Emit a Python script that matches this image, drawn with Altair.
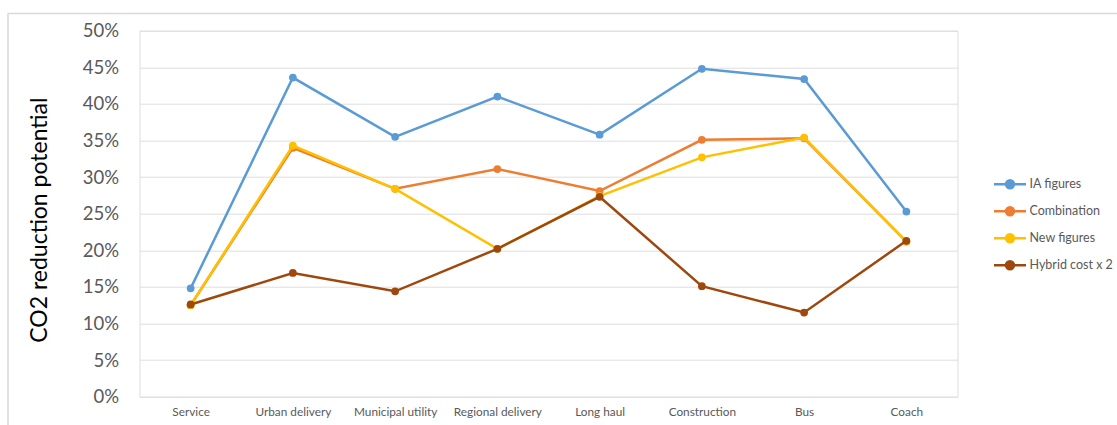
import altair as alt
import pandas as pd

categories = ["Service", "Urban delivery", "Municipal utility", "Regional delivery",
              "Long haul", "Construction", "Bus", "Coach"]
series_names = ["IA figures", "Combination", "New figures", "Hybrid cost x 2"]
ia_figures = [14.8, 43.6, 35.5, 41.0, 35.8, 44.8, 43.4, 25.3]
combination = [12.5, 34.0, 28.4, 31.1, 28.1, 35.1, 35.3, 21.2]
new_figures = [12.5, 34.3, 28.4, 20.2, 27.4, 32.7, 35.4, 21.2]
hybrid_cost_x2 = [12.6, 16.9, 14.4, 20.2, 27.3, 15.1, 11.5, 21.3]
colors = ["#5B9BD5", "#ED7D31", "#FFC000", "#9E480E"]
y_ticks = [0, 0.05, 0.10, 0.15, 0.20, 0.25, 0.30, 0.35, 0.40, 0.45, 0.50]

rows = []
for name, vals in zip(series_names, [ia_figures, combination, new_figures, hybrid_cost_x2]):
    for c, v in zip(categories, vals):
        rows.append({"category": c, "series": name, "value": v / 100.0})
df = pd.DataFrame(rows)

FONT = "Lato"
GRAY = "#595959"

legend = alt.Legend(
    title=None,
    orient="none",
    legendX=853,
    legendY=136,
    symbolType="M-1,0L1,0M-0.25,0A0.25,0.25 0 1,1 0.25,0A0.25,0.25 0 1,1 -0.25,0Z",
    symbolSize=1024,
    symbolStrokeWidth=2.5,
    symbolOpacity=1,
    labelFont=FONT,
    labelFontSize=12.5,
    labelColor=GRAY,
    labelOffset=2,
    rowPadding=-6.5,
)
cscale = alt.Scale(domain=series_names, range=colors)
stroke = alt.Stroke("series:N", scale=cscale, legend=legend)
fill = alt.Fill("series:N", scale=cscale, legend=legend)

x = alt.X("category:N", sort=categories,
          scale=alt.Scale(type="point", padding=0.5),
          axis=alt.Axis(title=None, labelAngle=0, labelFont=FONT, labelFontSize=11.8,
                        labelColor=GRAY, ticks=False, domain=False, grid=False,
                        labelPadding=10))
y = alt.Y("value:Q",
          scale=alt.Scale(domain=[0, 0.5], nice=False),
          axis=alt.Axis(values=y_ticks, format=".0%", title="CO2 reduction potential",
                        titleFont=FONT, titleFontSize=23, titleFontWeight="normal",
                        titleColor="#000000", titlePadding=31, titleY=189,
                        labelFont=FONT, labelFontSize=18.5, labelColor=GRAY,
                        labelPadding=21, ticks=False, domain=False,
                        gridColor="#dedede", gridWidth=1))

base = alt.Chart(df)

frame = alt.Chart(pd.DataFrame({"a": [0]})).mark_rect(
    fill=None, stroke="#d9d9d9", strokeWidth=1.5
).encode(x=alt.value(8 - 139.5), x2=alt.value(1130 - 139.5),
         y=alt.value(13.5 - 30.7), y2=alt.value(440 - 30.7))

layers = []
for name in series_names:
    sub = base.transform_filter(alt.datum.series == name)
    layers.append(sub.mark_line(strokeWidth=2.5).encode(x=x, y=y, stroke=stroke))
    layers.append(sub.mark_circle(size=60, opacity=1).encode(x=x, y=y, fill=fill))

chart = alt.layer(frame, *layers).properties(
    width=818, height=366,
    autosize=alt.AutoSizeParams(type="none"),
    padding={"left": 139.5, "top": 30.7, "right": 159.5, "bottom": 28.3},
).configure_view(stroke=None).configure(background="white")

chart.save("out.html", embed_options={"renderer": "svg", "actions": False})
